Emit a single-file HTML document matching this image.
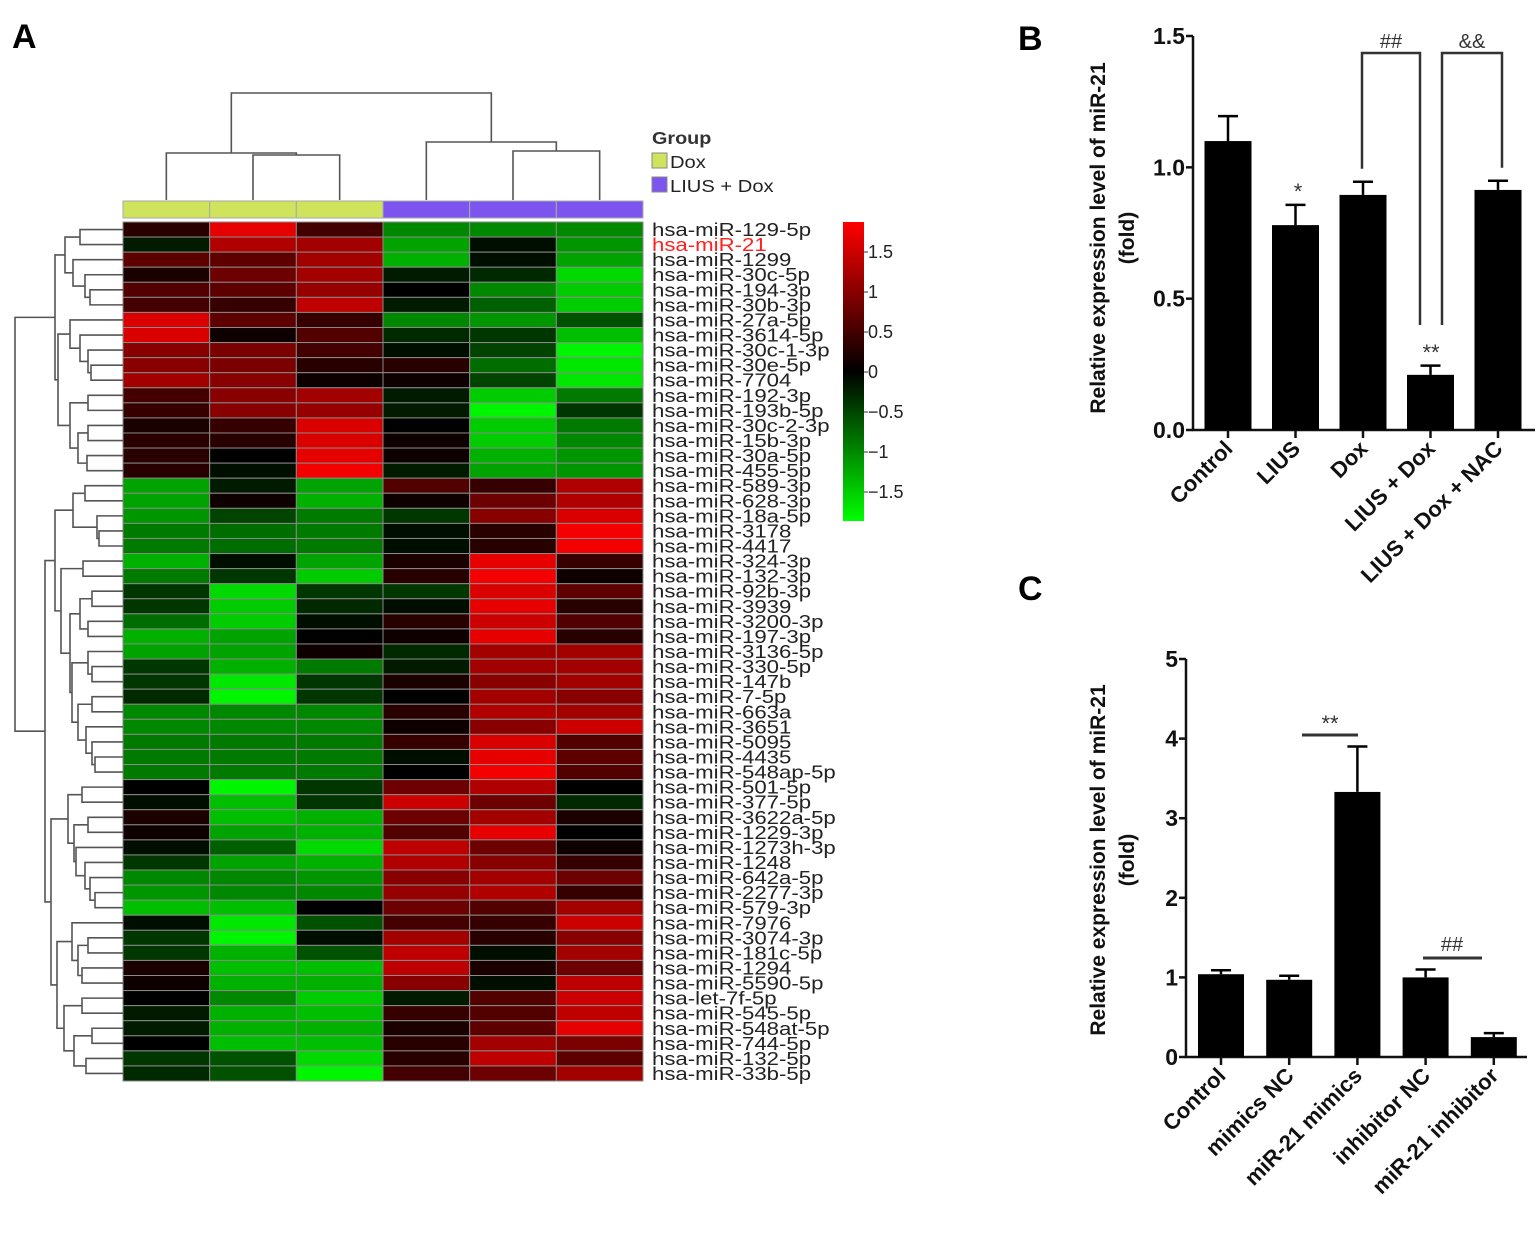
<!DOCTYPE html>
<html><head><meta charset="utf-8"><style>
body{margin:0;background:#fff;}
svg{display:block;font-family:"Liberation Sans",sans-serif;}
</style></head><body>
<svg id="fig" width="1536" height="1248" viewBox="0 0 1536 1248" xmlns="http://www.w3.org/2000/svg">
<defs>
<linearGradient id="cb" x1="0" y1="0" x2="0" y2="1">
<stop offset="0" stop-color="#ff0000"/><stop offset="0.5" stop-color="#000000"/><stop offset="1" stop-color="#00ff00"/>
</linearGradient>
</defs>
<text x="12" y="48" font-size="34" font-weight="bold">A</text>
<text x="1018" y="50" font-size="34" font-weight="bold">B</text>
<text x="1018" y="600" font-size="34" font-weight="bold">C</text>
<g id="heat"></g>
<g id="dend"></g>
<g id="cdend"></g>
<g>
<text x="652" y="144" font-size="18" font-weight="bold" fill="#333" transform="translate(652,0) scale(1.1,1) translate(-652,0)">Group</text>
<rect x="652" y="153" width="15" height="15" fill="#cfe35c" stroke="#888"/>
<text x="670" y="168" font-size="18" fill="#222" transform="translate(670,0) scale(1.12,1) translate(-670,0)">Dox</text>
<rect x="652" y="177" width="15" height="15" fill="#7b55ee" stroke="#888"/>
<text x="670" y="192" font-size="18" fill="#222" transform="translate(670,0) scale(1.12,1) translate(-670,0)">LIUS + Dox</text>
</g>
<g>
<rect x="843" y="222" width="21" height="299" fill="url(#cb)"/>
<g id="cbt"></g>
</g>
<g id="pb"></g>
<g id="pc"></g>
</svg>
<script>
const NS="http://www.w3.org/2000/svg";
const rowLabels=["hsa-miR-129-5p","hsa-miR-21","hsa-miR-1299","hsa-miR-30c-5p","hsa-miR-194-3p","hsa-miR-30b-3p","hsa-miR-27a-5p","hsa-miR-3614-5p","hsa-miR-30c-1-3p","hsa-miR-30e-5p","hsa-miR-7704","hsa-miR-192-3p","hsa-miR-193b-5p","hsa-miR-30c-2-3p","hsa-miR-15b-3p","hsa-miR-30a-5p","hsa-miR-455-5p","hsa-miR-589-3p","hsa-miR-628-3p","hsa-miR-18a-5p","hsa-miR-3178","hsa-miR-4417","hsa-miR-324-3p","hsa-miR-132-3p","hsa-miR-92b-3p","hsa-miR-3939","hsa-miR-3200-3p","hsa-miR-197-3p","hsa-miR-3136-5p","hsa-miR-330-5p","hsa-miR-147b","hsa-miR-7-5p","hsa-miR-663a","hsa-miR-3651","hsa-miR-5095","hsa-miR-4435","hsa-miR-548ap-5p","hsa-miR-501-5p","hsa-miR-377-5p","hsa-miR-3622a-5p","hsa-miR-1229-3p","hsa-miR-1273h-3p","hsa-miR-1248","hsa-miR-642a-5p","hsa-miR-2277-3p","hsa-miR-579-3p","hsa-miR-7976","hsa-miR-3074-3p","hsa-miR-181c-5p","hsa-miR-1294","hsa-miR-5590-5p","hsa-let-7f-5p","hsa-miR-545-5p","hsa-miR-548at-5p","hsa-miR-744-5p","hsa-miR-132-5p","hsa-miR-33b-5p"];
const heatValues=[
[0.3,1.7,0.5,-1.0,-1.0,-1.0],[-0.2,1.3,1.2,-1.2,-0.1,-1.1],[0.7,0.7,1.2,-1.3,-0.1,-1.2],[0.2,0.8,1.2,-0.2,-0.3,-1.6],
[0.6,0.7,1.1,0.0,-1.0,-1.5],[0.5,0.4,1.4,-0.2,-0.7,-1.5],[1.6,0.7,0.4,-1.0,-1.1,-0.6],[1.6,0.1,0.6,-0.3,-0.4,-1.4],
[1.0,0.9,0.5,-0.1,-0.5,-1.8],[1.0,0.9,0.3,0.3,-0.8,-1.7],[1.2,1.0,0.1,0.1,-0.5,-1.7],[0.5,1.0,1.2,-0.2,-1.5,-0.9],
[0.4,1.0,1.1,-0.2,-1.8,-0.4],[0.2,0.4,1.6,0.0,-1.5,-0.9],[0.3,0.3,1.6,0.1,-1.5,-1.0],[0.3,0.0,1.7,0.1,-1.3,-1.1],
[0.3,-0.1,1.8,-0.2,-1.2,-1.1],[-1.2,-0.2,-1.2,0.6,0.4,1.3],[-1.2,0.1,-1.3,0.1,0.8,1.3],[-1.1,-0.5,-0.9,-0.4,1.0,1.6],
[-0.9,-0.8,-0.9,-0.1,0.3,1.8],[-0.9,-0.8,-0.9,-0.1,0.3,1.8],[-1.3,-0.1,-1.2,0.2,1.7,0.4],[-0.9,-0.4,-1.5,0.3,1.8,0.1],
[-0.4,-1.6,-0.4,-0.4,1.6,0.7],[-0.4,-1.5,-0.3,-0.1,1.7,0.3],[-0.8,-1.5,-0.1,0.3,1.5,0.6],[-1.3,-1.2,0.0,0.1,1.7,0.3],
[-1.2,-1.2,0.1,-0.3,1.2,1.2],[-0.4,-1.3,-0.9,-0.2,1.2,1.2],[-0.4,-1.7,-0.4,0.2,1.0,1.2],[-0.3,-1.8,-0.4,0.0,1.2,1.0],
[-1.0,-1.0,-1.0,0.3,1.3,1.2],[-1.0,-1.0,-1.0,0.1,1.0,1.5],[-0.9,-0.9,-0.9,0.4,1.6,0.6],[-0.9,-0.9,-0.9,-0.1,1.7,0.7],
[-0.9,-0.9,-0.9,0.0,1.8,0.6],[0.0,-1.8,-0.4,0.8,1.3,0.0],[-0.1,-1.4,-0.4,1.5,0.8,-0.3],[0.2,-1.4,-1.3,0.8,1.2,0.2],
[0.1,-1.2,-1.3,0.6,1.7,0.0],[-0.1,-0.7,-1.6,1.4,0.8,0.1],[-0.4,-1.2,-1.3,1.3,1.0,0.4],[-1.0,-1.0,-1.1,1.0,1.2,0.8],
[-1.1,-1.0,-1.0,1.1,1.3,0.4],[-1.4,-1.4,0.0,0.8,0.6,1.2],[-0.1,-1.7,-0.6,0.5,0.4,1.5],[-0.4,-1.8,-0.1,1.2,0.3,1.0],
[-0.4,-1.3,-0.6,1.4,-0.1,1.2],[0.2,-1.4,-1.4,1.4,0.2,0.8],[0.1,-1.3,-1.3,1.0,-0.1,1.4],[0.0,-1.0,-1.5,-0.2,0.6,1.5],
[-0.2,-1.3,-1.4,0.4,0.6,1.4],[-0.2,-1.3,-1.3,0.2,0.7,1.7],[0.0,-1.4,-1.4,0.3,1.2,0.9],[-0.4,-0.6,-1.6,0.3,1.4,0.7],
[-0.3,-0.6,-1.8,0.5,0.8,1.2]];
const colGroups=["Dox","Dox","Dox","LIUS + Dox","LIUS + Dox","LIUS + Dox"];
const scaleTicks=[1.5,1,0.5,0,-0.5,-1,-1.5];
const bCats=["Control","LIUS","Dox","LIUS + Dox","LIUS + Dox + NAC"];
const bVals=[1.10,0.78,0.895,0.21,0.914];
const bErr=[0.095,0.077,0.05,0.035,0.035];
const bTicks=[0,0.5,1.0,1.5];
const cCats=["Control","mimics NC","miR-21 mimics","inhibitor NC","miR-21 inhibitor"];
const cVals=[1.04,0.97,3.33,1.00,0.25];
const cErr=[0.05,0.05,0.57,0.10,0.05];
const cTicks=[0,1,2,3,4,5];

function mk(tag,attrs,parent,txt){const e=document.createElementNS(NS,tag);for(const k in attrs)e.setAttribute(k,attrs[k]);if(txt!==undefined)e.textContent=txt;parent.appendChild(e);return e;}
const HX=123,HY=222,CW=(643-123)/6,RH=(1081-222)/57;
const heat=document.getElementById('heat');
function col(v){const t=Math.min(Math.abs(v)/1.8,1);const c=Math.round(245*t);return v>=0?`rgb(${c},0,0)`:`rgb(0,${c},0)`;}
heatValues.forEach((row,r)=>{row.forEach((v,c)=>{
 const e=mk('rect',{x:HX+c*CW,y:HY+r*RH,width:CW,height:RH,fill:col(v),stroke:'#8a8a8a','stroke-width':1},heat);
 
 
});
 const t=mk('text',{x:652,y:HY+r*RH+RH/2+6.5,'font-size':18.5,fill:r===1?'#ff2020':'#222',transform:'translate(652,0) scale(1.2,1) translate(-652,0)'},heat,rowLabels[r]);
 
 
});
colGroups.forEach((g,c)=>{
 const e=mk('rect',{x:HX+c*CW,y:201,width:CW,height:17,fill:g==='Dox'?'#cfe35c':'#7b55ee',stroke:'#aaa','stroke-width':1},heat);
 
 
});
const cbt=document.getElementById('cbt');
scaleTicks.forEach(v=>{const y=372-80*v;
 mk('line',{x1:864,x2:868,y1:y,y2:y,stroke:'#333'},cbt);
 const t=mk('text',{x:868,y:y+6,'font-size':18,fill:'#222'},cbt,v<0?'\u2212'+Math.abs(v):String(v));
 
 
});
const tree=[15,[55,[65,[80,0,1],[73,2,[85,3,[90,4,5]]]],[58,[70,6,[80,7,[88,8,[91,9,10]]]],[70,[88,11,12],[78,[88,13,14],[87,15,16]]]]],
 [45,[55,[73,[85,17,18],[97,19,[99,20,21]]],[61,[83,22,23],[70,[80,[92,24,25],[88,26,27]],[72,[88,28,[92,29,30]],[78,[92,31,32],[86,33,[92,34,[95,35,36]]]]]]]],
 [51,[68,[82,37,38],[74,[88,39,40],[76,41,[85,42,[90,43,[95,44,45]]]]]],[57,[72,46,[78,[88,47,48],[82,49,50]]],[64,[82,51,52],[74,[92,53,54],[86,55,56]]]]]]];
const dend=document.getElementById('dend');
function draw(n){ if(typeof n==='number')return {x:HX,y:HY+n*RH+RH/2};
 const a=draw(n[1]),b=draw(n[2]),x=n[0];
 mk('path',{d:`M${a.x},${a.y}H${x}V${b.y}H${b.x}`,fill:'none',stroke:'#555','stroke-width':1.6},dend);
 return {x:x,y:(a.y+b.y)/2};}
draw(tree);
const ctree=[93,[153,0,[155,1,2]],[142,3,[151,4,5]]];
const cd=document.getElementById('cdend');
function drawc(n){ if(typeof n==='number')return {x:HX+n*CW+CW/2,y:200};
 const a=drawc(n[1]),b=drawc(n[2]),y=n[0];
 mk('path',{d:`M${a.x},${a.y}V${y}H${b.x}V${b.y}`,fill:'none',stroke:'#555','stroke-width':1.6},cd);
 return {x:(a.x+b.x)/2,y:y};}
drawc(ctree);
function bar(g,o){
 const ys=v=>o.y0-(v/o.max)*(o.y0-o.yTop);
 mk('path',{d:`M${o.ax},${o.yTop}V${o.y0}H${o.xEnd}`,fill:'none',stroke:'#111','stroke-width':2.5},g);
 o.ticks.forEach(t=>{const y=ys(t);mk('line',{x1:o.ax-7,x2:o.ax,y1:y,y2:y,stroke:'#111','stroke-width':2.5},g);
  const e=mk('text',{x:o.ax-8,y:y+8,'font-size':23,'font-weight':'bold','text-anchor':'end',fill:'#111'},g,o.fmt(t));
  
  });
 o.cats.forEach((c,i)=>{const cx=o.x0+i*o.step;
  const r=mk('rect',{x:cx-o.bw/2,y:ys(o.vals[i]),width:o.bw,height:o.y0-ys(o.vals[i]),fill:'#000'},g);
  
  
  const te=ys(o.vals[i]+o.err[i]);
  mk('path',{d:`M${cx},${ys(o.vals[i])}V${te}M${cx-10},${te}H${cx+10}`,stroke:'#000','stroke-width':2.5,fill:'none'},g);
  mk('line',{x1:cx,x2:cx,y1:o.y0,y2:o.y0+8,stroke:'#111','stroke-width':2.5},g);
  const t=mk('text',{x:cx+6,y:o.y0+20,'font-size':22,'font-weight':'bold','text-anchor':'end',fill:'#111',transform:`rotate(-45 ${cx+6} ${o.y0+20})`},g,c);
  
  
 });
 const yt=mk('text',{'font-size':21,'font-weight':'bold','text-anchor':'middle',fill:'#111',transform:`translate(${o.tx},${o.ty}) rotate(-90)`},g,'Relative expression level of miR-21');
 
 
 const yt2=mk('text',{'font-size':21,'font-weight':'bold','text-anchor':'middle',fill:'#111',transform:`translate(${o.tx+29},${o.ty}) rotate(-90)`},g,'(fold)');
 
 
 return ys;}
const pb=document.getElementById('pb');
const ysb=bar(pb,{ax:1193,y0:430,yTop:36,max:1.5,xEnd:1535,x0:1228,step:67.5,bw:47,cats:bCats,vals:bVals,err:bErr,ticks:bTicks,fmt:t=>t.toFixed(1),tx:1105,ty:238});
const S='#333';
mk('path',{d:`M1362,${ysb(0.945)-13}V53H1420V325`,fill:'none',stroke:S,'stroke-width':2.5},pb);
mk('path',{d:`M1442,325V53H1502V${ysb(0.949)-13}`,fill:'none',stroke:S,'stroke-width':2.5},pb);
mk('text',{x:1391,y:48,'font-size':20,'text-anchor':'middle',fill:S},pb,'##');
mk('text',{x:1472,y:48,'font-size':20,'text-anchor':'middle',fill:S},pb,'&&');
mk('text',{x:1298,y:ysb(0.857)-6,'font-size':22,'text-anchor':'middle',fill:S},pb,'*');
mk('text',{x:1431,y:ysb(0.244)-6,'font-size':22,'text-anchor':'middle',fill:S},pb,'**');
const pc=document.getElementById('pc');
const ysc=bar(pc,{ax:1186,y0:1057,yTop:659,max:5,xEnd:1527,x0:1221,step:68.2,bw:46,cats:cCats,vals:cVals,err:cErr,ticks:cTicks,fmt:t=>String(t),tx:1105,ty:860});
mk('line',{x1:1302,x2:1358,y1:735,y2:735,stroke:S,'stroke-width':3},pc);
mk('text',{x:1330,y:731,'font-size':22,'text-anchor':'middle',fill:S},pc,'**');
mk('line',{x1:1423,x2:1482,y1:958,y2:958,stroke:S,'stroke-width':3},pc);
mk('text',{x:1452,y:951,'font-size':20,'text-anchor':'middle',fill:S},pc,'##');
</script>
</body></html>
